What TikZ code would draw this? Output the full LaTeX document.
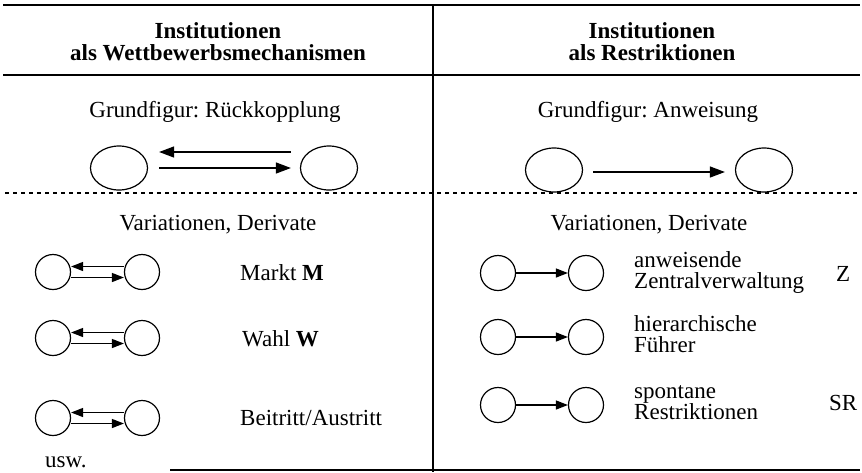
\documentclass[tikz,border=0pt]{standalone}
\usepackage{fontspec}
\setmainfont{Liberation Serif}
\usetikzlibrary{arrows.meta,shapes.geometric}
\frenchspacing
\begin{document}
\begin{tikzpicture}[x=1pt,y=-1pt,
  every node/.style={font=\fontsize{23}{21}\selectfont, inner sep=0pt},
  bigcirc/.style={draw, ellipse, minimum width=57pt, minimum height=44pt, line width=1.2pt},
  smallcirc/.style={draw, ellipse, minimum width=35pt, minimum height=35pt, line width=1.2pt},
  bigarrow/.style={line width=1.3pt, -{Triangle[length=15pt,width=11pt]}},
  smallarrow/.style={line width=1.3pt, -{Triangle[length=12pt,width=9pt]}},
  rule/.style={line width=1.5pt},
  dashrule/.style={line width=1.1pt, dash pattern=on 4pt off 4pt},
  lbl/.style={anchor=base west, align=left}
]
\useasboundingbox (0,0) rectangle (862,472);
\fill[white] (0,0) rectangle (862,472);

% table rules
\coordinate (tl) at (3,5);   \coordinate (tr) at (860,5);
\coordinate (hl) at (3,75);  \coordinate (hr) at (860,75);
\coordinate (vt) at (433,5); \coordinate (vb) at (433,472);
\coordinate (bl) at (170,470); \coordinate (br) at (860,470);
\coordinate (dl) at (5,193); \coordinate (dr) at (860,193);
\draw[rule] (tl) -- (tr);
\draw[rule] (hl) -- (hr);
\draw[rule] (vt) -- (vb);
\draw[rule] (bl) -- (br);
\draw[dashrule] (dl) -- (dr);

% headers
\node[font=\fontsize{23}{22}\selectfont\bfseries, align=center] (h1) at (218,42) {Institutionen\\als Wettbewerbsmechanismen};
\node[font=\fontsize{23}{22}\selectfont\bfseries, align=center] (h2) at (652,42) {Institutionen\\als Restriktionen};

% Grundfiguren
\node[anchor=base] (g1) at (215,117) {Grundfigur: Rückkopplung};
\node[anchor=base] (g2) at (648,117) {Grundfigur: Anweisung};

\node[bigcirc] (L1) at (119,168) {};
\node[bigcirc] (L2) at (329,168) {};
\draw[bigarrow] ([xshift=-9pt,yshift=16pt]L2.west) -- ([xshift=11pt,yshift=16pt]L1.east);
\draw[bigarrow] ([xshift=11pt]L1.east) -- ([xshift=-9pt]L2.west);

\node[bigcirc] (R1) at (554,170) {};
\node[bigcirc] (R2) at (764,170) {};
\draw[bigarrow] ([xshift=10pt,yshift=-2pt]R1.east) -- ([xshift=-10pt,yshift=-2pt]R2.west);

% Variationen
\node[anchor=base] (v1) at (218,230) {Variationen, Derivate};
\node[anchor=base] (v2) at (649,230) {Variationen, Derivate};

% left variants
\node[smallcirc] (a1) at (53,272) {};
\node[smallcirc] (a2) at (142,272) {};
\draw[smallarrow] ([yshift=5.5pt]a2.west) -- ([yshift=5.5pt]a1.east);
\draw[smallarrow] ([yshift=-5.5pt]a1.east) -- ([yshift=-5.5pt]a2.west);
\node[lbl] (ta) at (240,280) {Markt \textbf{M}};

\node[smallcirc] (b1) at (53,338) {};
\node[smallcirc] (b2) at (142,338) {};
\draw[smallarrow] ([yshift=5.5pt]b2.west) -- ([yshift=5.5pt]b1.east);
\draw[smallarrow] ([yshift=-5.5pt]b1.east) -- ([yshift=-5.5pt]b2.west);
\node[lbl] (tb) at (242,346) {Wahl \textbf{W}};

\node[smallcirc] (c1) at (53,418) {};
\node[smallcirc] (c2) at (142,418) {};
\draw[smallarrow] ([yshift=5.5pt]c2.west) -- ([yshift=5.5pt]c1.east);
\draw[smallarrow] ([yshift=-5.5pt]c1.east) -- ([yshift=-5.5pt]c2.west);
\node[lbl] (tc) at (240,425) {Beitritt/Austritt};

\node[lbl] (usw) at (45,467) {usw.};

% right variants (base anchor = last line)
\node[smallcirc] (d1) at (498,273) {};
\node[smallcirc] (d2) at (586,273) {};
\draw[smallarrow] (d1.east) -- (d2.west);
\node[lbl] (td) at (634,288) {anweisende\\Zentralverwaltung};
\node[anchor=base west] (z) at (836,281) {Z};

\node[smallcirc] (e1) at (498,337) {};
\node[smallcirc] (e2) at (586,337) {};
\draw[smallarrow] (e1.east) -- (e2.west);
\node[lbl] (te) at (634,352) {hierarchische\\Führer};

\node[smallcirc] (f1) at (498,405) {};
\node[smallcirc] (f2) at (586,405) {};
\draw[smallarrow] (f1.east) -- (f2.west);
\node[lbl] (tf) at (634,419) {spontane\\Restriktionen};
\node[anchor=base west] (sr) at (829,410) {SR};
\end{tikzpicture}
\end{document}
